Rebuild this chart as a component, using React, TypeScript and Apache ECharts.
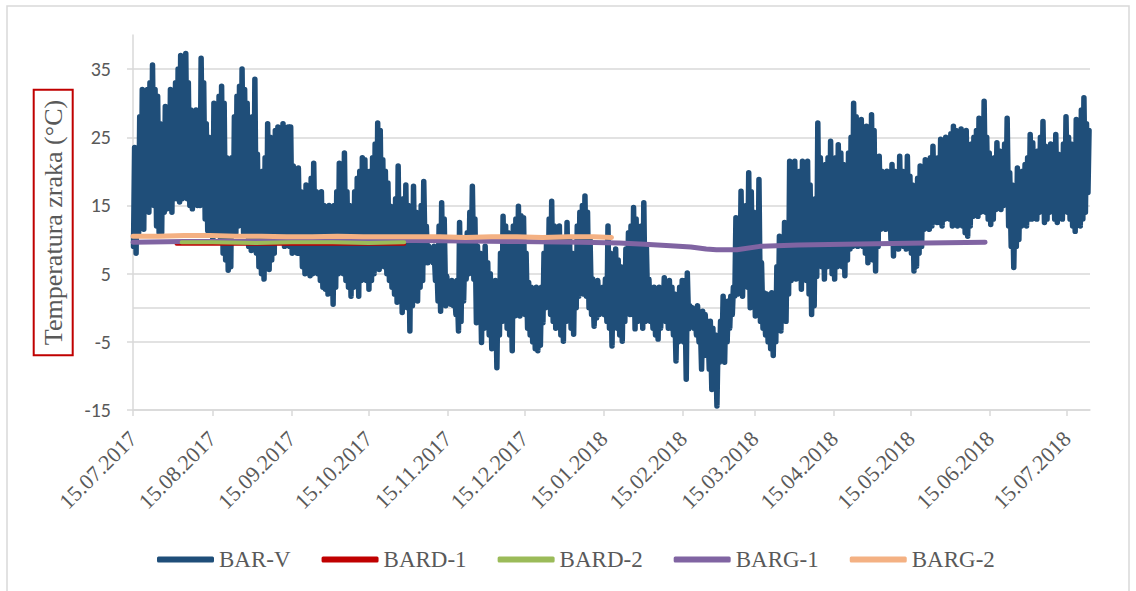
import React, { useEffect, useRef } from "react";
import * as echarts from "echarts";

// ---------- DATA ----------
const SERIES_NAMES = ["BAR-V", "BARD-1", "BARD-2", "BARG-1", "BARG-2"];
const SERIES_COLORS = ["#1F4E79", "#C00000", "#9BBB59", "#8064A2", "#F4B183"];

const X_START = "15.07.2017";
const X_END = "24.07.2018";
const X_TICK_LABELS = [
  "15.07.2017", "15.08.2017", "15.09.2017", "15.10.2017", "15.11.2017", "15.12.2017",
  "15.01.2018", "15.02.2018", "15.03.2018", "15.04.2018", "15.05.2018", "15.06.2018", "15.07.2018",
];
const Y_TICKS = [-15, -5, 5, 15, 25, 35];
const Y_GRID = [-15, -5, 0, 5, 15, 25, 35];

// BAR-V: daily maximum / minimum air temperature (°C), one block per month
const MONTH_FIRST_DAYS = [
  "15.07.2017", "01.08.2017", "01.09.2017", "01.10.2017", "01.11.2017", "01.12.2017",
  "01.01.2018", "01.02.2018", "01.03.2018", "01.04.2018", "01.05.2018", "01.06.2018", "01.07.2018",
];
const MAX_2017_07 = [23.5, 22, 28, 32, 30, 32, 33, 35.6, 32, 31, 27, 25, 29.5, 28, 32, 30, 33];
const MIN_2017_07 = [9, 8, 11, 12, 11.5, 15, 14, 16, 15, 12, 11, 11, 14, 14.5, 15, 14, 16];
const MAX_2017_08 = [35, 37, 36, 37.3, 33, 29, 27, 29, 26, 36.6, 33, 27, 25, 23, 30, 28, 31, 32.5, 30, 22, 20, 22, 28, 31, 32.5, 35, 32, 30, 26, 28, 33.5];
const MIN_2017_08 = [16, 15.5, 16, 17, 16, 15, 14.5, 15.5, 15, 15, 16, 13, 11.3, 11, 10, 11, 12, 10, 8, 7, 5.5, 6, 11, 11, 12, 13, 11, 12, 9, 8.4, 10];
const MAX_2017_09 = [22.5, 18, 20, 22, 27, 25, 22, 26, 26.5, 25, 27, 24, 26.5, 26.5, 20.8, 19, 20.5, 17, 16, 18, 17, 19, 21.2, 17, 16, 17, 15, 14.5, 15, 13];
const MIN_2017_09 = [8, 6, 5, 4.2, 6, 5.6, 7, 8, 11, 10, 11, 9, 10, 9, 8, 9, 8, 8, 6, 5, 5.5, 4.7, 5, 6.6, 5, 4, 3, 2.7, 2, 2.7];
const MAX_2017_10 = [15, 17, 21.2, 19, 22.7, 17, 15, 14, 17, 19, 20, 22, 21.7, 19, 20, 22, 24, 27.1, 26, 21.7, 20, 18.3, 14.9, 13, 16, 20.8, 15, 16, 18, 15, 14];
const MIN_2017_10 = [0.5, 3, 5, 6, 5, 4, 3, 1.7, 3, 4, 1.7, 4, 5, 4, 2.7, 4, 5, 6, 5.6, 6.6, 6, 5, 4, 3, 2, 0.8, 2, -0.7, 1, 0, -3.4];
const MAX_2017_11 = [17.8, 14, 12, 15, 18.5, 12, 9, 8.5, 9, 8, 12, 15.4, 13, 4.6, 3.5, 4, 2.7, 4, 12.5, 10, 8, 11, 14, 17.8, 13, 9, 8, 7, 9, 6.6];
const MIN_2017_11 = [0.3, 2, 1, 3, 4, 6.6, 6.6, 7, 6.6, 4, 1, -0.5, 0.5, 0.3, 1, 0.5, 0.3, -1, -3.4, -2, 1, 4.2, 5, 6, 4.2, -2.2, 0, -5.1, -3, -2];
const MAX_2017_12 = [5, 3.7, 4, 3, 8, 13.4, 12, 11, 9, 12, 13, 14.9, 13.5, 13.2, 8, 3.7, 3, 2.5, 3, 2, 3, 8, 10, 13, 15.6, 12, 11, 12, 10, 9, 12.5];
const MIN_2017_12 = [-4, -6, -5, -8.8, -4, -2, 0, -3, -4, -6.3, -1.2, 0, -1.2, 0, -1, -3, -4, -5, -6, -6.3, -5.5, -2.2, 0, 1, -1, -2, -3, -2, -4, -4.9, -2];
const MAX_2018_01 = [10, 8, 7, 12, 14, 15, 16.4, 14, 10, 4.2, 3, 4, 2.5, 3, 4.2, 12, 8, 6, 8.6, 7, 6, 5, 8.6, 11, 12, 14.7, 13, 10, 12, 15.4, 9];
const MIN_2018_01 = [-1, -3, -3.9, 0, 1.7, 3, 2, 1.7, 0, -1, -2.7, -1.5, -1, -0.5, -1, -2, -3, -5.6, -2, -3, -4, -4.9, -2, 0, -1, -1, -3.1, -2, -1, -3, -2];
const MAX_2018_02 = [4.2, 2, 3, 2, 3, 2, 4.4, 3, 4, 3, 2, 1, 3, 4, 4, 5.1, 0.3, 0, -0.5, 0.3, -1, -0.5, -1, -2, -2, -3, -4, -5];
const MIN_2018_02 = [-1, -2, -3, -4, -4.6, -3, -1, -2, -3, -3, -4, -7.8, -5, -3, -5, -10.5, -3.1, -2, -3, -4, -5, -9, -7, -6, -9, -12, -11, -14.4];
const MAX_2018_03 = [-2, 1.7, 0, 1, 1.7, 3, 13.2, 8, 17.1, 12, 15, 19.8, 17, 14, 12, 18.8, 6.6, 2.2, 2, 1.5, 2.2, 2, 6, 10.5, 8, 12.5, 10, 21.5, 21, 21.5, 19];
const MIN_2018_03 = [-8, -6, -8, -5, -3, -1, 1.7, 2, 3, 1.7, 4, 3, 0, 0.5, -1.2, -1, -2, -3, -4, -5, -6, -7, -5, -2, -3.4, -1, -2, 2, 4, 5, 4.2];
const MAX_2018_04 = [20, 21.5, 18, 21.5, 18, 15, 16, 27.1, 22, 19, 21, 22, 24.4, 20, 22, 23.9, 22.7, 21, 20, 22.7, 25, 30, 28, 25, 27.6, 25, 26.6, 24, 28.3, 26];
const MIN_2018_04 = [5, 2.7, 5, 4, 2, -1, 0.3, 4.6, 7, 6, 4.2, 6, 7, 5, 4.2, 6, 7, 6, 4.7, 7, 8.6, 9, 10, 9, 10, 9, 8, 6.6, 8, 7];
const MAX_2018_05 = [22, 22.2, 20, 18.3, 20, 19, 21, 20, 19, 22.2, 20, 18, 22.2, 19.3, 18, 17, 19, 20.8, 19, 21.7, 20, 22, 23.7, 21, 22, 24.7, 23, 25, 24, 25.5, 26.6];
const MIN_2018_05 = [5.4, 9, 11.5, 12, 11.5, 12, 10, 7.6, 9, 8.6, 10, 9, 8.6, 10, 8, 5.4, 6.1, 8, 9, 11.5, 12, 11.5, 12, 13, 12.5, 12.5, 12, 13, 14, 13, 12];
const MAX_2018_06 = [26, 25, 26.2, 24, 26, 22, 24, 25, 26, 27.8, 26, 30.3, 25, 22.7, 20, 22, 24.2, 23, 22, 24, 27.8, 19.8, 18, 15, 20.5, 18, 20, 21, 22, 25.4];
const MIN_2018_06 = [13, 12, 13, 12, 11, 10.5, 12, 13.4, 14, 13.4, 14, 15, 14, 13, 12.2, 13, 14.4, 15, 14.4, 15, 16, 12, 9, 5.9, 9, 10, 12, 13, 12, 13];
const MAX_2018_07 = [24.2, 22, 23, 25, 27.3, 23.7, 22, 24, 23, 25.4, 22.5, 21, 24, 28, 25, 24, 22, 27.6, 26, 29, 30.8, 27, 26];
const MIN_2018_07 = [13, 14, 13, 14, 15, 12.5, 13, 14, 15, 13, 12.5, 14, 13, 15, 14, 13, 12, 11.2, 13, 12, 13, 14, 16.9];

const MONTH_MAX = [MAX_2017_07, MAX_2017_08, MAX_2017_09, MAX_2017_10, MAX_2017_11, MAX_2017_12, MAX_2018_01, MAX_2018_02, MAX_2018_03, MAX_2018_04, MAX_2018_05, MAX_2018_06, MAX_2018_07];
const MONTH_MIN = [MIN_2017_07, MIN_2017_08, MIN_2017_09, MIN_2017_10, MIN_2017_11, MIN_2017_12, MIN_2018_01, MIN_2018_02, MIN_2018_03, MIN_2018_04, MIN_2018_05, MIN_2018_06, MIN_2018_07];

// BARD-1 / BARD-2 / BARG-1 / BARG-2 (stable ~10 °C)
const BARD1_DATES = ["01.08.2017", "15.08.2017", "01.09.2017", "15.09.2017", "01.10.2017", "15.10.2017", "29.10.2017"];
const BARD1_VALUES = [9.4, 9.4, 9.4, 9.4, 9.4, 9.4, 9.4];
const BARD2_DATES = ["03.08.2017", "15.08.2017", "01.09.2017", "15.09.2017", "01.10.2017", "15.10.2017", "29.10.2017"];
const BARD2_VALUES = [9.6, 9.6, 9.5, 9.6, 9.6, 9.5, 9.6];
const BARG1_DATES = ["15.07.2017", "04.08.2017", "03.09.2017", "03.10.2017", "23.10.2017", "22.11.2017", "12.12.2017", "06.01.2018", "21.01.2018", "31.01.2018", "10.02.2018", "18.02.2018", "24.02.2018", "28.02.2018", "08.03.2018", "17.03.2018", "01.04.2018", "01.05.2018", "21.05.2018", "13.06.2018"];
const BARG1_VALUES = [9.6, 9.7, 9.7, 9.8, 9.9, 9.8, 9.7, 9.6, 9.5, 9.3, 9.1, 8.9, 8.6, 8.5, 8.5, 9.0, 9.2, 9.4, 9.5, 9.6];
const BARG2_DATES = ["15.07.2017", "25.07.2017", "04.08.2017", "14.08.2017", "24.08.2017", "03.09.2017", "13.09.2017", "23.09.2017", "03.10.2017", "13.10.2017", "23.10.2017", "02.11.2017", "12.11.2017", "22.11.2017", "02.12.2017", "12.12.2017", "22.12.2017", "01.01.2018", "11.01.2018", "18.01.2018"];
const BARG2_VALUES = [10.5, 10.5, 10.6, 10.6, 10.5, 10.5, 10.4, 10.4, 10.5, 10.4, 10.4, 10.4, 10.4, 10.3, 10.4, 10.4, 10.3, 10.4, 10.4, 10.3];

// ---------- HELPERS ----------
const DAY = 24 * 3600 * 1000;
const parseUTC = (s: string): number => {
  const [d, m, y] = s.split(".").map(Number);
  return Date.UTC(y, m - 1, d);
};
const T0 = parseUTC(X_START);
// x axis unit: days since 15.07.2017
const dayOf = (s: string) => Math.round((parseUTC(s) - T0) / DAY);
const pad = (n: number) => String(n).padStart(2, "0");
const formatDay = (v: number) => {
  const d = new Date(T0 + Math.round(v) * DAY);
  return `${pad(d.getUTCDate())}.${pad(d.getUTCMonth() + 1)}.${d.getUTCFullYear()}`;
};

const buildBarV = () => {
  const out: [number, number][] = [];
  MONTH_FIRST_DAYS.forEach((first, mi) => {
    const d0 = dayOf(first);
    const mx = MONTH_MAX[mi];
    const mn = MONTH_MIN[mi];
    for (let i = 0; i < mx.length; i++) {
      out.push([d0 + i + 5 / 24, mn[i]]);
      out.push([d0 + i + 15 / 24, mx[i]]);
    }
  });
  return out;
};
const pairs = (dates: string[], vals: number[]) => dates.map((d, i) => [dayOf(d), vals[i]]);

const SERIF = "'Liberation Serif', 'Times New Roman', serif";
const GREY_TEXT = "#595959";
const GRID_GREY = "#d9d9d9";

export default function App() {
  const ref = useRef<HTMLDivElement>(null);
  useEffect(() => {
    if (!ref.current) return;
    const chart = echarts.init(ref.current, undefined, { renderer: "svg" });
    const lineSeries = (i: number, data: any[], width: number, z: number) => ({
      name: SERIES_NAMES[i],
      type: "line",
      data,
      showSymbol: false,
      symbol: "none",
      z,
      lineStyle: { color: SERIES_COLORS[i], width, join: "round", cap: "round" },
      itemStyle: { color: SERIES_COLORS[i] },
      emphasis: { disabled: true },
    });
    const xTicks = X_TICK_LABELS.map(dayOf);
    const option: any = {
      animation: false,
      backgroundColor: "#ffffff",
      graphic: [
        {
          type: "rect",
          shape: { x: 7, y: 6, width: 1122, height: 600 },
          style: { fill: "none", stroke: GRID_GREY, lineWidth: 1.5 },
          silent: true,
          z: -10,
        },
      ],
      grid: { left: 133, right: 46, top: 35, bottom: 181, containLabel: false },
      legend: {
        data: SERIES_NAMES,
        top: 543,
        left: 152,
        icon: "roundRect",
        itemWidth: 57,
        itemHeight: 6,
        itemGap: 31,
        textStyle: { fontFamily: SERIF, fontSize: 23, color: GREY_TEXT },
      },
      xAxis: {
        type: "value",
        min: 0,
        max: dayOf(X_END),
        axisLine: { show: true, onZero: false, lineStyle: { color: GRID_GREY, width: 1.5 } },
        axisTick: {
          show: true,
          length: 6,
          lineStyle: { color: GRID_GREY, width: 1.5 },
          customValues: xTicks,
        },
        splitLine: { show: false },
        axisLabel: {
          customValues: xTicks,
          formatter: (v: number) => formatDay(v),
          rotate: 45,
          margin: 25,
          hideOverlap: false,
          fontFamily: SERIF,
          fontSize: 22,
          color: GREY_TEXT,
        },
      },
      yAxis: {
        type: "value",
        min: -15,
        max: 40,
        interval: 10,
        name: "Temperatura zraka (°C)",
        nameLocation: "middle",
        nameGap: 54,
        nameTextStyle: {
          fontFamily: SERIF,
          fontSize: 26,
          color: GREY_TEXT,
          borderColor: "#C00000",
          borderWidth: 2,
          padding: [5, 10, 4, 10],
          lineHeight: 30,
        },
        axisLine: { show: true, lineStyle: { color: GRID_GREY, width: 1.5 } },
        axisTick: {
          show: true,
          length: 6,
          lineStyle: { color: GRID_GREY, width: 1.5 },
          customValues: Y_TICKS,
        },
        splitLine: { show: false },
        axisLabel: {
          customValues: Y_TICKS,
          margin: 22,
          fontFamily: "Carlito, Lato, 'Open Sans', sans-serif",
          fontSize: 20,
          color: GREY_TEXT,
        },
      },
      series: [
        {
          name: "gridlines",
          type: "line",
          data: [],
          z: 1,
          markLine: {
            silent: true,
            symbol: "none",
            z: 1,
            label: { show: false },
            lineStyle: { color: GRID_GREY, type: "solid", width: 1.5 },
            data: Y_GRID.map((v) => ({ yAxis: v })),
          },
        },
        lineSeries(0, buildBarV(), 5.5, 2),
        lineSeries(1, pairs(BARD1_DATES, BARD1_VALUES), 4, 3),
        lineSeries(2, pairs(BARD2_DATES, BARD2_VALUES), 4, 5),
        lineSeries(3, pairs(BARG1_DATES, BARG1_VALUES), 5, 4),
        lineSeries(4, pairs(BARG2_DATES, BARG2_VALUES), 5, 6),
      ],
    };
    chart.setOption(option);
    return () => chart.dispose();
  }, []);
  return (
    <div
      ref={ref}
      style={{ position: "fixed", left: 0, top: 0, width: 1136, height: 591, background: "#fff" }}
    />
  );
}
